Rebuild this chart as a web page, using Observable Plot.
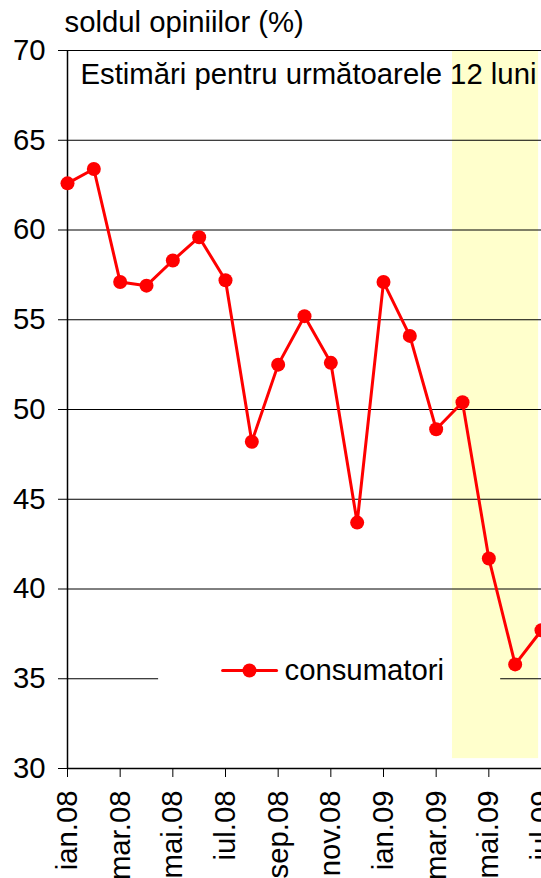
<!DOCTYPE html>
<html><head><meta charset="utf-8">
<script src="https://cdn.jsdelivr.net/npm/d3@7"></script>
<script src="https://cdn.jsdelivr.net/npm/@observablehq/plot@0.6"></script>
<style>body{margin:0;background:#fff;overflow:hidden} #chart svg{overflow:hidden}</style>
</head><body><div id="chart"></div>
<script>
// ---- data ----
const months = ["ian.08","feb.08","mar.08","apr.08","mai.08","iun.08","iul.08","aug.08","sep.08","oct.08","nov.08","dec.08","ian.09","feb.09","mar.09","apr.09","mai.09","iun.09","iul.09"];
const consumatori = [62.6,63.4,57.1,56.9,58.3,59.6,57.2,48.2,52.5,55.2,52.6,43.7,57.1,54.1,48.9,50.4,41.7,35.8,37.7];
const yTicks = [30,35,40,45,50,55,60,65,70];
const xTickIdx = [0,2,4,6,8,10,12,14,16,18];
const xTickLabels = ["ian.08","mar.08","mai.08","iul.08","sep.08","nov.08","ian.09","mar.09","mai.09","iul.09"];
const seriesName = "consumatori";
const titleText = "soldul opiniilor (%)";
const noteText = "Estimări pentru următoarele 12 luni";

const data = months.map((m, i) => ({i, m, v: consumatori[i]}));
const FONT = "'Liberation Sans', Arial, sans-serif";
const FS = 29.3;

// shaded forecast window (data units)
const shade = [{x1: 14.62, x2: 17.89, y1: 30.55, y2: 70}];
// legend geometry (data units)
const legY = 35.46;
const legGap = [3.46, 16.45];
const gridFull = [40,45,50,55,60,65,70];
const gridBroken = [{y: 35, x1: 0, x2: legGap[0]}, {y: 35, x1: legGap[1], x2: 18}];

const chart = Plot.plot({
  width: 541, height: 878,
  marginLeft: 67, marginRight: 0, marginTop: 50, marginBottom: 110,
  style: {fontFamily: FONT, fontSize: FS + "px", color: "black", background: "white"},
  x: {domain: [0, 18]},
  y: {domain: [30, 70]},
  marks: [
    Plot.rect(shade, {x1: "x1", x2: "x2", y1: "y1", y2: "y2", fill: "#FFFFCC"}),
    Plot.ruleY(gridFull, {stroke: "black", strokeWidth: 1}),
    Plot.ruleY(gridBroken, {y: "y", x1: "x1", x2: "x2", stroke: "black", strokeWidth: 1}),
    Plot.ruleX([0], {stroke: "black", strokeWidth: 1.5}),
    Plot.ruleY([30], {stroke: "black", strokeWidth: 1.5}),
    Plot.axisY({ticks: yTicks, tickSize: 9, tickPadding: 13, label: null, fontSize: FS}),
    Plot.axisX({ticks: xTickIdx, tickFormat: (d) => xTickLabels[xTickIdx.indexOf(d)], tickRotate: -90, tickSize: 9, tickPadding: 13, label: null, fontSize: FS}),
    Plot.line(data, {x: "i", y: "v", stroke: "#FF0000", strokeWidth: 3}),
    Plot.dot(data, {x: "i", y: "v", r: 7, fill: "#FF0000"}),
    // legend
    Plot.line([{x: 5.89, y: legY}, {x: 7.94, y: legY}], {x: "x", y: "y", stroke: "#FF0000", strokeWidth: 3}),
    Plot.dot([{x: 6.91, y: legY}], {x: "x", y: "y", r: 7, fill: "#FF0000"}),
    Plot.text([seriesName], {x: 8.24, y: legY, text: d => d, textAnchor: "start", fontSize: FS, fill: "black"}),
    // titles
    Plot.text([titleText], {frameAnchor: "top-left", text: d => d, dx: -3, dy: -19, lineAnchor: "bottom", textAnchor: "start", fontSize: FS, fill: "black"}),
    Plot.text([noteText], {frameAnchor: "top-left", text: d => d, dx: 13, dy: 24, lineAnchor: "middle", textAnchor: "start", fontSize: FS, fill: "black"})
  ]
});
document.getElementById("chart").appendChild(chart);
</script>
</body></html>
